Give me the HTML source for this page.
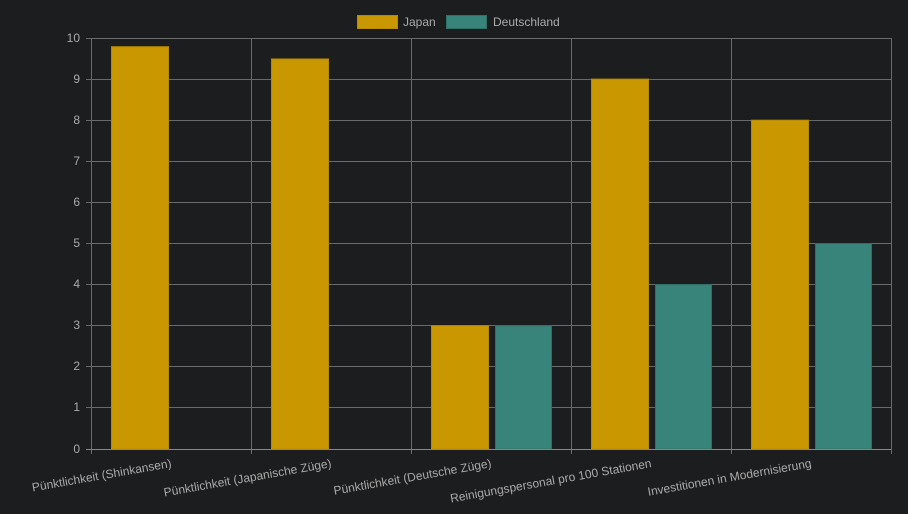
<!DOCTYPE html>
<html><head><style>body{margin:0;background:#1c1d1f}svg{display:block}text{font-family:"Liberation Sans",sans-serif;fill:#aaa;font-size:12px}</style></head><body>
<svg width="908" height="514" xmlns="http://www.w3.org/2000/svg">
<rect width="908" height="514" fill="#1c1d1f"/>
<g stroke="#6a6a6a" stroke-width="1">
<line x1="86" y1="38.5" x2="891" y2="38.5"/><line x1="86" y1="79.5" x2="891" y2="79.5"/><line x1="86" y1="120.5" x2="891" y2="120.5"/><line x1="86" y1="161.5" x2="891" y2="161.5"/><line x1="86" y1="202.5" x2="891" y2="202.5"/><line x1="86" y1="243.5" x2="891" y2="243.5"/><line x1="86" y1="284.5" x2="891" y2="284.5"/><line x1="86" y1="325.5" x2="891" y2="325.5"/><line x1="86" y1="366.5" x2="891" y2="366.5"/><line x1="86" y1="407.5" x2="891" y2="407.5"/>
<line x1="91.5" y1="38" x2="91.5" y2="454"/><line x1="251.5" y1="38" x2="251.5" y2="454"/><line x1="411.5" y1="38" x2="411.5" y2="454"/><line x1="571.5" y1="38" x2="571.5" y2="454"/><line x1="731.5" y1="38" x2="731.5" y2="454"/><line x1="891.5" y1="38" x2="891.5" y2="454"/>
</g>
<g fill="#c99700" stroke="#b88a00">
<rect x="111.5" y="46.7" width="57" height="402.3"/>
<rect x="271.5" y="59" width="57" height="390"/>
<rect x="431.5" y="325.7" width="57" height="123.3"/>
<rect x="591.5" y="79.1" width="57" height="369.9"/>
<rect x="751.5" y="120.2" width="57" height="328.8"/>
</g>
<g fill="#38837a" stroke="#2f7068">
<rect x="495.5" y="325.7" width="56" height="123.3"/>
<rect x="655.5" y="284.6" width="56" height="164.4"/>
<rect x="815.5" y="243.5" width="56" height="205.5"/>
</g>
<line x1="86" y1="449.5" x2="891" y2="449.5" stroke="#888"/>
<g text-anchor="end">
<text x="80" y="42">10</text><text x="80" y="83">9</text><text x="80" y="124">8</text><text x="80" y="165">7</text><text x="80" y="206">6</text><text x="80" y="247">5</text><text x="80" y="288">4</text><text x="80" y="329">3</text><text x="80" y="370">2</text><text x="80" y="411">1</text><text x="80" y="453">0</text>
<text transform="translate(172,467) rotate(-10)">Pünktlichkeit (Shinkansen)</text>
<text transform="translate(332,467) rotate(-10)">Pünktlichkeit (Japanische Züge)</text>
<text transform="translate(492,467) rotate(-10)">Pünktlichkeit (Deutsche Züge)</text>
<text transform="translate(652,467) rotate(-10)">Reinigungspersonal pro 100 Stationen</text>
<text transform="translate(812,467) rotate(-10)">Investitionen in Modernisierung</text>
</g>
<rect x="357.5" y="15.5" width="40" height="13" fill="#c99700" stroke="#b88a00"/>
<text x="403" y="26">Japan</text>
<rect x="446.5" y="15.5" width="40" height="13" fill="#38837a" stroke="#2f7068"/>
<text x="493" y="26">Deutschland</text>
</svg>
</body></html>
